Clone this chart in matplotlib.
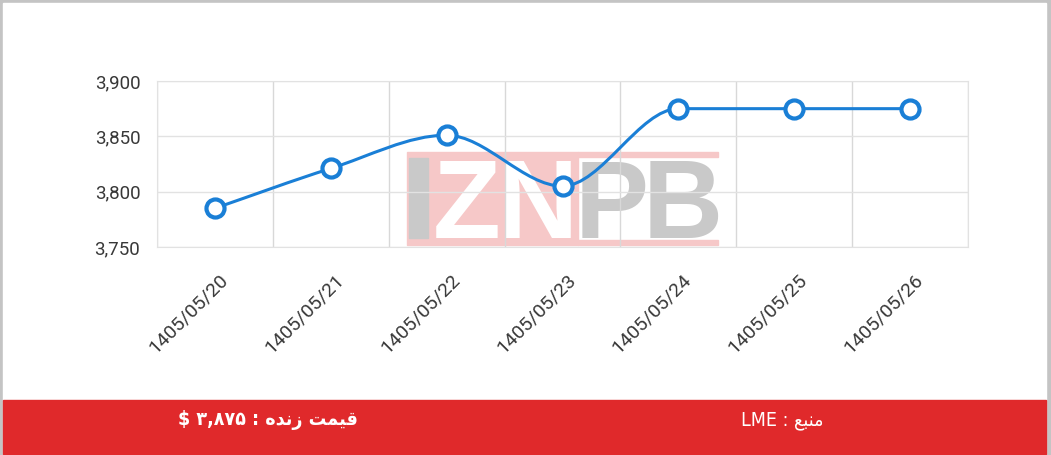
import numpy as np
import matplotlib.pyplot as plt
from matplotlib.path import Path
from matplotlib.patches import PathPatch, Rectangle
import matplotlib.transforms as mtransforms
from matplotlib.ticker import FuncFormatter

dates = ["1405/05/20", "1405/05/21", "1405/05/22", "1405/05/23",
         "1405/05/24", "1405/05/25", "1405/05/26"]
prices = [3785, 3821, 3851, 3805, 3875, 3875, 3875]
yticks = [3750, 3800, 3850, 3900]

# banner texts, written in visual (left-to-right, shaped) order
price_label = "$ \u06f3,\u06f8\u06f7\u06f5 : \ufee9\ufeaa\ufee7\ufeaf \ufe96\ufee4\ufef4\ufed7"
source_label = "LME : \ufeca\ufe92\ufee8\ufee3"

W, H = 1051, 455
fig = plt.figure(figsize=(W / 100, H / 100), dpi=100)
fig.patch.set_facecolor("#c4c4c4")

def fx(px):
    return px / W

def fy(py):
    return 1 - py / H

# white card and red banner
fig.add_artist(Rectangle((fx(3), fy(454)), fx(1046) - fx(3), fy(3) - fy(454),
                         transform=fig.transFigure, color="white", zorder=0))
fig.add_artist(Rectangle((fx(3), fy(454)), fx(1046) - fx(3), fy(400) - fy(454),
                         transform=fig.transFigure, color="#e0292b", zorder=1))

ax = fig.add_axes([fx(157), fy(247), fx(968) - fx(157), fy(81) - fy(247)])
ax.set_facecolor("none")
ax.set_zorder(3)

x = np.arange(len(prices))
y = np.array(prices, dtype=float)

# monotone cubic (like chart.js) drawn as bezier segments
d = np.diff(y)
m = np.zeros(len(y))
m[0], m[-1] = d[0], d[-1]
for i in range(1, len(y) - 1):
    m[i] = 0 if d[i - 1] * d[i] <= 0 else (d[i - 1] + d[i]) / 2
for i in range(len(d)):
    if d[i] == 0:
        m[i] = m[i + 1] = 0
        continue
    a, b = m[i] / d[i], m[i + 1] / d[i]
    s = a * a + b * b
    if s > 9:
        t = 3 / np.sqrt(s)
        m[i], m[i + 1] = t * a * d[i], t * b * d[i]

verts = [(x[0], y[0])]
codes = [Path.MOVETO]
for i in range(len(d)):
    verts += [(x[i] + 1 / 3, y[i] + m[i] / 3),
              (x[i + 1] - 1 / 3, y[i + 1] - m[i + 1] / 3),
              (x[i + 1], y[i + 1])]
    codes += [Path.CURVE4] * 3
ax.add_patch(PathPatch(Path(verts, codes), fill=False, edgecolor="#1a7fd6",
                       lw=2.2, zorder=4))
ax.plot(x, y, "o", ms=13, mfc="white", mec="#1a7fd6", mew=3, zorder=5)

ax.set_xlim(-0.5, len(prices) - 0.5)
ax.set_ylim(3750, 3900)
ax.set_yticks(yticks)
ax.yaxis.set_major_formatter(FuncFormatter(lambda v, p: f"{int(v):,}"))
ax.set_xticks(x)
ax.set_xticklabels(dates)
ax.set_xticks(np.arange(-0.5, len(prices), 1), minor=True)
ax.grid(True, which="minor", axis="x", color="#d8d8d8", lw=1, zorder=0)
ax.grid(True, which="major", axis="y", color="#e2e2e2", lw=1, zorder=0)
ax.tick_params(which="both", length=0)
ax.tick_params(axis="y", pad=12, labelsize=13.5, labelcolor="#383838")
for s in ax.spines.values():
    s.set_color("#e2e2e2")
for lab in ax.get_yticklabels():
    lab.set_fontfamily("Roboto")
offset = mtransforms.ScaledTranslation(0.10, -0.25, fig.dpi_scale_trans)
for lab in ax.get_xticklabels():
    lab.set_rotation(45)
    lab.set_ha("right")
    lab.set_va("center")
    lab.set_rotation_mode("anchor")
    lab.set_fontfamily("Roboto")
    lab.set_fontsize(14)
    lab.set_color("#383838")
    lab.set_transform(lab.get_transform() + offset)

# watermark
wm = dict(transform=fig.transFigure, zorder=2)
pink = "#f6c8c8"
fig.add_artist(Rectangle((fx(407), fy(245)), fx(578) - fx(407), fy(152) - fy(245),
                         color=pink, **wm))
fig.add_artist(Rectangle((fx(578), fy(157)), fx(718) - fx(578), 5 / H,
                         color=pink, **wm))
fig.add_artist(Rectangle((fx(578), fy(245)), fx(718) - fx(578), 5 / H,
                         color=pink, **wm))
fig.add_artist(Rectangle((fx(409), fy(238)), fx(428) - fx(409), fy(158) - fy(238),
                         color="#c9c9c9", **wm))
for ch, cx, col in [("Z", 467, "white"), ("N", 538, "white"),
                    ("P", 612, "#c9c9c9"), ("B", 683, "#c9c9c9")]:
    fig.text(fx(cx), fy(238), ch, ha="center", va="baseline", fontsize=80,
             fontweight="bold", family="Liberation Sans", color=col, zorder=2)

fig.text(fx(268), fy(420), price_label, ha="center", va="center", color="white",
         fontsize=14, fontweight="bold", fontstretch="condensed",
         family=["DejaVu Sans"], zorder=3)
fig.text(fx(782), fy(420), source_label, ha="center", va="center", color="white",
         fontsize=14, fontstretch="condensed", family=["DejaVu Sans"], zorder=3)

fig.savefig("out.png", dpi=100)
